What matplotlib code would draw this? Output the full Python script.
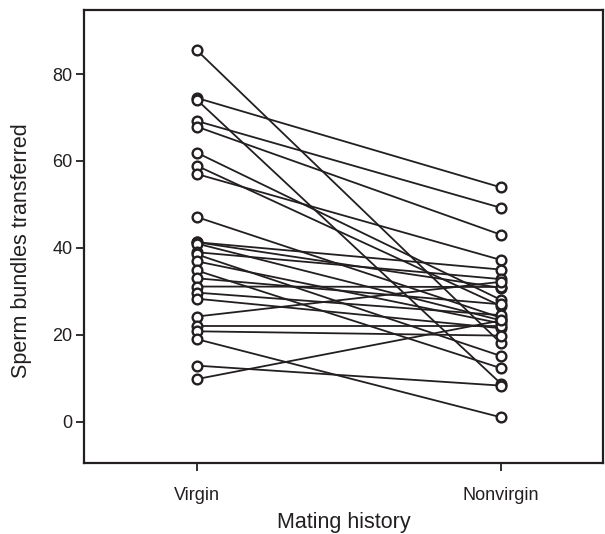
import matplotlib.pyplot as plt

plt.rcParams["font.family"] = ["Liberation Sans", "DejaVu Sans"]

groups = ["Virgin", "Nonvirgin"]
virgin = [85.5, 74.5, 74.1, 69.2, 67.9, 61.9, 58.9, 57.0, 47.1, 41.3, 41.3, 41.0,
          39.0, 38.5, 36.9, 34.8, 33.0, 31.1, 29.7, 28.3, 24.2, 22.1, 20.8, 19.0,
          12.9, 9.8]
nonvirgin = [18.0, 53.9, 8.7, 49.2, 43.0, 28.0, 26.6, 37.2, 23.9, 35.0, 30.8, 23.3,
             32.8, 15.1, 22.6, 12.3, 27.0, 31.0, 24.5, 21.5, 32.2, 22.1, 19.8, 1.0,
             8.3, 23.3]

fig = plt.figure(figsize=(6.05, 5.34), dpi=100)
ax = fig.add_axes([0.139, 0.133, 0.858, 0.848])

for v, n in zip(virgin, nonvirgin):
    ax.plot([0, 1], [v, n], color="#231f20", lw=1.3, marker="o", ms=7,
            mfc="white", mec="#231f20", mew=1.7, zorder=2)

ax.set_xlim(-0.37, 1.335)
ax.set_ylim(-9.5, 94.7)
ax.set_xticks([0, 1])
ax.set_xticklabels(groups)
ax.set_yticks(range(0, 81, 20))
ax.tick_params(direction="out", length=6, width=1.3, labelsize=13, color="#231f20",
               labelcolor="#231f20")
ax.tick_params(axis="x", pad=11)
ax.tick_params(axis="y", pad=2.5)
for s in ax.spines.values():
    s.set_linewidth(1.6)
    s.set_color("#231f20")

ax.set_xlabel("Mating history", fontsize=15.5, color="#231f20", labelpad=6)
ax.set_ylabel("Sperm bundles transferred", fontsize=15.5, color="#231f20")
ax.yaxis.set_label_coords(-0.10, 0.47)

plt.savefig("out.png", dpi=100)
